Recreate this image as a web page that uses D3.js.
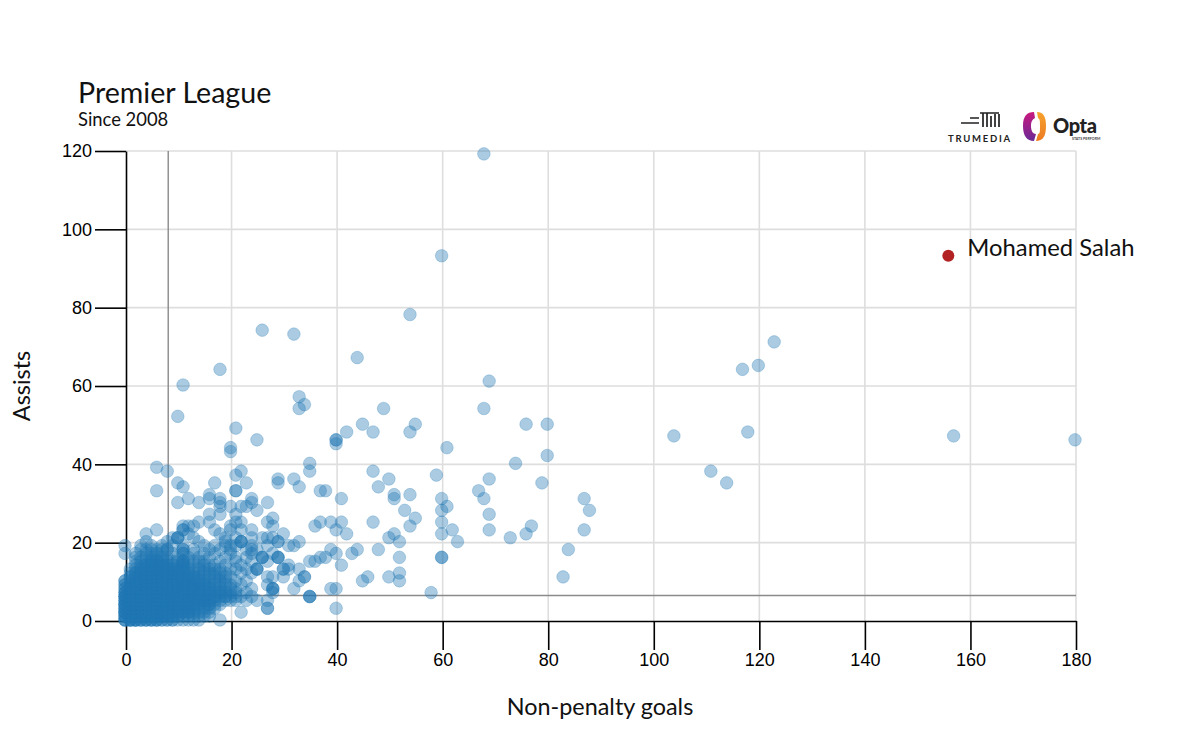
<!DOCTYPE html>
<html>
<head>
<meta charset="utf-8">
<script src="https://cdn.jsdelivr.net/npm/d3@7"></script>
<style>
  html, body { margin: 0; padding: 0; background: #fff; }
  svg { display: block; }
</style>
</head>
<body>
<svg id="chart" width="1200" height="750"></svg>
<script>
// [assists, [non-penalty goals of each player with that many assists]]
const playerRows = [
  [0, [0, 1, 1, 2, 2, 3, 4, 5, 6, 7, 8, 9, 11, 12, 14, 18]],
  [1, [0, 1, 2, 3, 4, 5, 6, 7, 8, 9, 10, 12, 13, 16]],
  [2, [0, 0, 1, 2, 3, 4, 5, 6, 7, 8, 9, 10, 11, 12, 14, 15, 22]],
  [3, [0, 1, 2, 3, 4, 5, 6, 7, 8, 9, 10, 11, 12, 13, 14, 16, 27, 27, 40]],
  [4, [0, 0, 1, 2, 3, 4, 5, 6, 7, 8, 9, 10, 11, 12, 13, 14, 15, 16, 17]],
  [5, [0, 1, 2, 3, 4, 5, 6, 7, 8, 9, 10, 11, 12, 13, 14, 15, 16, 17, 18, 19, 21, 23, 25, 27]],
  [6, [0, 0, 1, 2, 3, 4, 5, 6, 7, 8, 9, 10, 11, 12, 13, 14, 15, 16, 17, 18, 19, 20, 22, 24, 35, 35, 35]],
  [7, [0, 1, 2, 3, 4, 5, 6, 7, 8, 9, 10, 11, 12, 13, 14, 15, 16, 17, 18, 20, 21, 23, 28, 58]],
  [8, [0, 1, 2, 3, 4, 5, 6, 7, 8, 9, 10, 11, 12, 13, 14, 15, 16, 17, 19, 21, 24, 28, 28, 28, 32, 39, 40]],
  [9, [0, 1, 2, 3, 4, 5, 6, 7, 8, 9, 10, 11, 12, 13, 14, 15, 16, 18, 20, 22, 27]],
  [10, [0, 1, 2, 3, 4, 5, 6, 7, 8, 9, 10, 11, 12, 13, 14, 15, 17, 19, 21, 23, 33, 45, 52]],
  [11, [1, 2, 3, 4, 5, 6, 7, 8, 9, 10, 11, 12, 13, 14, 16, 18, 20, 27, 28, 30, 34, 34, 46, 50, 83]],
  [12, [1, 2, 3, 4, 5, 6, 7, 8, 9, 10, 11, 12, 13, 15, 17, 19, 22, 24, 52]],
  [13, [1, 2, 3, 4, 5, 6, 7, 8, 9, 10, 11, 12, 14, 16, 18, 20, 21, 23, 25, 25, 25, 30, 30, 31, 33]],
  [14, [2, 3, 4, 5, 6, 7, 8, 9, 10, 12, 15, 17, 19, 22, 31, 41]],
  [15, [2, 3, 4, 5, 6, 7, 8, 9, 11, 13, 15, 18, 21, 24, 27, 35, 36]],
  [16, [2, 3, 4, 5, 6, 7, 8, 10, 12, 14, 16, 19, 21, 23, 26, 26, 26, 29, 29, 29, 37, 38, 52, 60, 60]],
  [17, [0, 2, 4, 5, 6, 7, 9, 11, 11, 13, 15, 17, 20, 24, 28, 40, 43]],
  [18, [3, 4, 5, 6, 7, 8, 8, 11, 11, 13, 16, 18, 20, 23, 24, 25, 39, 44, 48, 84]],
  [19, [0, 3, 5, 7, 9, 11, 15, 17, 19, 20, 21, 24, 27, 31, 32]],
  [20, [4, 8, 14, 19, 22, 22, 22, 29, 29, 33, 52, 63]],
  [21, [9, 10, 10, 10, 13, 19, 21, 24, 26, 27, 28, 50, 73]],
  [22, [4, 12, 18, 30, 42, 51, 60, 76]],
  [23, [6, 11, 11, 17, 20, 22, 24, 40, 62, 69, 87]],
  [24, [11, 12, 13, 20, 28, 36, 54, 77]],
  [25, [14, 16, 21, 22, 27, 37, 39, 41, 47, 60]],
  [26, [28, 55]],
  [27, [16, 18, 21, 69]],
  [28, [25, 53, 60, 88]],
  [29, [18, 20, 22, 23, 61]],
  [30, [10, 14, 18, 24, 27]],
  [31, [12, 16, 18, 24, 41, 51, 60, 68, 87]],
  [32, [16, 51, 54]],
  [33, [6, 21, 21, 37, 38, 67]],
  [34, [11, 33, 48]],
  [35, [10, 17, 23, 29, 79, 114]],
  [36, [29, 32, 50, 69]],
  [37, [21, 59]],
  [38, [8, 22, 35, 47, 111]],
  [39, [6]],
  [40, [35, 74]],
  [42, [80]],
  [43, [20]],
  [44, [20, 61]],
  [45, [40]],
  [46, [25, 40, 40, 180]],
  [47, [104, 157]],
  [48, [42, 47, 54, 118]],
  [49, [21]],
  [50, [45, 55, 76, 80]],
  [52, [10]],
  [54, [33, 49, 68]],
  [55, [34]],
  [57, [33]],
  [60, [11]],
  [61, [69]],
  [64, [18, 117]],
  [65, [120]],
  [67, [44]],
  [71, [123]],
  [73, [32]],
  [74, [26]],
  [78, [54]],
  [93, [60]],
  [119, [68]]
]
// the solid patch near the origin, where single players can't be told apart
const crowdedRows = [
  [0, [0, 0, 1, 1, 2, 2, 3, 3, 4, 4, 5, 5, 6, 6, 7, 8, 9, 10, 13]],
  [1, [0, 0, 1, 1, 2, 2, 3, 3, 4, 4, 5, 5, 6, 6, 7, 7, 8, 9, 10, 11, 14, 15]],
  [2, [0, 0, 1, 1, 2, 2, 3, 3, 4, 4, 5, 5, 6, 6, 7, 7, 8, 8, 9, 10, 11, 12, 13, 16]],
  [3, [0, 0, 1, 1, 2, 2, 3, 3, 4, 4, 5, 5, 6, 6, 7, 7, 8, 8, 9, 9, 10, 11, 12, 13, 15, 17]],
  [4, [0, 0, 1, 1, 2, 2, 3, 3, 4, 4, 5, 5, 6, 6, 7, 7, 8, 8, 9, 9, 10, 10, 11, 12, 13, 14, 16, 18]],
  [5, [0, 0, 1, 1, 2, 2, 3, 3, 4, 4, 5, 5, 6, 6, 7, 7, 8, 8, 9, 9, 10, 10, 11, 11, 12, 14, 15, 16, 20]],
  [6, [0, 0, 1, 1, 2, 2, 3, 3, 4, 4, 5, 5, 6, 6, 7, 7, 8, 8, 9, 9, 10, 10, 11, 12, 13, 15, 17, 19, 21]],
  [7, [0, 0, 1, 1, 2, 2, 3, 3, 4, 4, 5, 5, 6, 6, 7, 7, 8, 8, 9, 9, 10, 11, 12, 13, 14, 16, 18, 19]],
  [8, [0, 1, 1, 2, 2, 3, 3, 4, 4, 5, 5, 6, 6, 7, 7, 8, 8, 9, 10, 11, 12, 13, 14, 16, 18, 20]],
  [9, [0, 1, 2, 2, 3, 3, 4, 4, 5, 5, 6, 6, 7, 7, 8, 9, 10, 11, 12, 13, 15, 17, 19]],
  [10, [0, 2, 3, 3, 4, 4, 5, 5, 6, 6, 7, 7, 8, 9, 10, 11, 12, 14, 16, 18]],
  [11, [1, 3, 4, 4, 5, 5, 6, 6, 7, 8, 9, 10, 11, 13, 15, 17, 19]],
  [12, [2, 3, 4, 5, 5, 6, 6, 7, 8, 9, 10, 12, 14, 16, 18]],
  [13, [3, 4, 5, 6, 7, 8, 9, 11, 13, 15, 17]],
  [14, [4, 5, 6, 7, 8, 11, 11, 14, 16]],
  [15, [5, 6, 7, 10, 11, 11, 12, 14]]
]
const highlightPlayer = { name: 'Mohamed Salah', goals: 156, assists: 93 }
const xTicks = [0, 20, 40, 60, 80, 100, 120, 140, 160, 180]
const yTicks = [0, 20, 40, 60, 80, 100, 120]
const medianGoals = 8
const medianAssists = 6.5

const svg = d3.select('#chart')
const margin = { top: 151, right: 124, bottom: 129, left: 126 }
const width = 1200 - margin.left - margin.right
const height = 750 - margin.top - margin.bottom
const tickFont = '"Liberation Sans", Arial, sans-serif'
const textFont = 'Lato, sans-serif'

const x = d3.scaleLinear().domain([0, 180]).range([0, width])
const y = d3.scaleLinear().domain([0, 120]).range([height, 0])

const g = svg.append('g').attr('transform', `translate(${margin.left},${margin.top})`)

// Grid
g.append('g').selectAll('line').data(xTicks.slice(1)).enter().append('line')
  .attr('x1', d => x(d)).attr('x2', d => x(d))
  .attr('y1', 0).attr('y2', height)
  .attr('stroke', '#dedede').attr('stroke-width', 1.6)
g.append('g').selectAll('line').data(yTicks.slice(1)).enter().append('line')
  .attr('x1', 0).attr('x2', width)
  .attr('y1', d => y(d)).attr('y2', d => y(d))
  .attr('stroke', '#dedede').attr('stroke-width', 1.6)

// Reference lines
g.append('line')
  .attr('x1', x(medianGoals)).attr('x2', x(medianGoals))
  .attr('y1', 0).attr('y2', height)
  .attr('stroke', '#8a8a8a').attr('stroke-width', 1.4)
g.append('line')
  .attr('x1', 0).attr('x2', width)
  .attr('y1', y(medianAssists)).attr('y2', y(medianAssists))
  .attr('stroke', '#8a8a8a').attr('stroke-width', 1.4)

// Axes
const xAxis = g.append('g')
  .attr('transform', `translate(0,${height})`)
  .call(d3.axisBottom(x).tickValues(xTicks).tickSize(29).tickPadding(3).tickSizeOuter(0))
const yAxis = g.append('g')
  .call(d3.axisLeft(y).tickValues(yTicks).tickSize(31).tickPadding(3).tickSizeOuter(0))
for (const axis of [xAxis, yAxis]) {
  axis.selectAll('line, path').attr('stroke', '#000').attr('stroke-width', 1.6)
  axis.selectAll('text').attr('fill', '#000').attr('font-family', tickFont).attr('font-size', 18)
}

// Players, the dots sit about a pixel up and left of the grid in the original
const toPlayers = rows => rows.flatMap(([assists, goals]) => goals.map(d => ({ goals: d, assists })))
const players = toPlayers(playerRows).concat(toPlayers(crowdedRows))
const dots = g.append('g').attr('transform', 'translate(-1,-1)')
dots.selectAll('circle').data(players).enter().append('circle')
  .attr('cx', d => x(d.goals))
  .attr('cy', d => y(d.assists))
  .attr('r', 6.3)
  .attr('fill', '#1f77b4')
  .attr('fill-opacity', 0.38)
  .attr('stroke', '#1f77b4')
  .attr('stroke-opacity', 0.25)

dots.append('circle')
  .attr('cx', x(highlightPlayer.goals))
  .attr('cy', y(highlightPlayer.assists))
  .attr('r', 6)
  .attr('fill', '#b22222')
g.append('text')
  .attr('x', x(highlightPlayer.goals) + 18)
  .attr('y', y(highlightPlayer.assists) - 1)
  .attr('font-family', textFont).attr('font-size', 23.8).attr('fill', '#111')
  .text(highlightPlayer.name)

// Titles
svg.append('text').attr('x', 78).attr('y', 103)
  .attr('font-family', textFont).attr('font-size', 28.6).attr('fill', '#111')
  .text('Premier League')
svg.append('text').attr('x', 78).attr('y', 126)
  .attr('font-family', textFont).attr('font-size', 18.4).attr('fill', '#111')
  .text('Since 2008')
svg.append('text').attr('x', 600).attr('y', 715).attr('text-anchor', 'middle')
  .attr('font-family', textFont).attr('font-size', 23.4).attr('fill', '#111')
  .text('Non-penalty goals')
svg.append('text')
  .attr('transform', 'translate(30,386) rotate(-90)').attr('text-anchor', 'middle')
  .attr('font-family', textFont).attr('font-size', 23.4).attr('fill', '#111')
  .text('Assists')

// Logos, roughly
const defs = svg.append('defs')
const optaLeft = defs.append('linearGradient').attr('id', 'opta-left').attr('x1', 0).attr('x2', 0).attr('y1', 0).attr('y2', 1)
optaLeft.append('stop').attr('offset', 0).attr('stop-color', '#c9187f')
optaLeft.append('stop').attr('offset', 1).attr('stop-color', '#6a2a96')
const optaRight = defs.append('linearGradient').attr('id', 'opta-right').attr('x1', 0).attr('x2', 0).attr('y1', 0).attr('y2', 1)
optaRight.append('stop').attr('offset', 0).attr('stop-color', '#f6a22d')
optaRight.append('stop').attr('offset', 1).attr('stop-color', '#ec7a23')

const logos = svg.append('g')
logos.append('path')
  .attr('d', 'M970 118h9M961 123h18M980 113h19M983 113v14M987 113v14M991 116v11M995 114v13M999 114v13')
  .attr('stroke', '#222').attr('stroke-width', 1.7).attr('fill', 'none')
logos.append('text').attr('x', 980).attr('y', 141.5).attr('text-anchor', 'middle')
  .attr('font-family', textFont).attr('font-weight', 700).attr('font-size', 9.5)
  .attr('letter-spacing', 1.75).attr('fill', '#222')
  .text('TRUMEDIA')
logos.append('path')
  .attr('d', 'M1034 112c-7 0-11 4-11 14s4 15 11 15l2-7c-3 0-5-3-5-8s2-7 4-8z')
  .attr('fill', 'url(#opta-left)')
logos.append('path')
  .attr('d', 'M1037 112c6 0 9 4 9 14s-3 15-10 15l2-7c2 0 2-3 2-8s0-7-2-8z')
  .attr('fill', 'url(#opta-right)')
logos.append('text').attr('x', 1053).attr('y', 133)
  .attr('font-family', textFont).attr('font-weight', 900).attr('font-size', 20).attr('letter-spacing', -0.4).attr('fill', '#222')
  .text('Opta')
logos.append('text').attr('x', 1072).attr('y', 140)
  .attr('font-family', textFont).attr('font-weight', 700).attr('font-size', 3.6).attr('fill', '#444')
  .text('STATS PERFORM')
</script>
</body>
</html>
